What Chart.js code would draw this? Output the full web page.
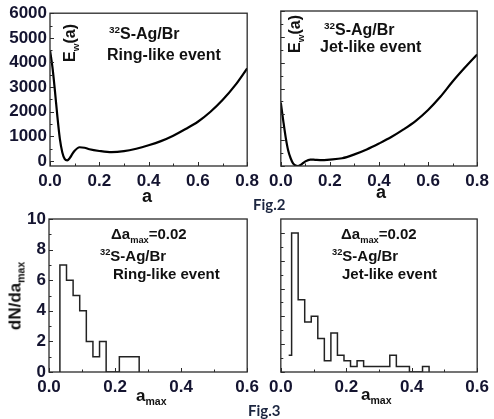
<!DOCTYPE html>
<html>
<head>
<meta charset="utf-8">
<script src="https://cdn.jsdelivr.net/npm/chart.js@4.4.0/dist/chart.umd.min.js"></script>
<style>
  body { margin: 0; background: #fff; }
  #wrap { position: relative; width: 494px; height: 419px; overflow: hidden; background: #fff;
          font-family: "Liberation Sans", Arial, sans-serif; font-weight: bold; color: #111; }
  canvas { position: absolute; }
  .t { position: absolute; white-space: nowrap; line-height: 1; }
  .t sub, .t sup { font-size: 62%; line-height: 0; }
  .rot { transform: translate(-50%, -50%) rotate(-90deg); }
  .fig { font-family: Lato, "Open Sans", sans-serif; color: #1c2640; font-size: 15px; }
</style>
</head>
<body>
<div id="wrap">
  <canvas id="ewRingChart" width="264" height="195" style="left:0;top:0"></canvas>
  <canvas id="ewJetChart" width="230" height="195" style="left:264px;top:0"></canvas>
  <canvas id="histRingChart" width="264" height="195" style="left:0;top:205px"></canvas>
  <canvas id="histJetChart" width="230" height="195" style="left:264px;top:205px"></canvas>

  <div class="t rot" style="left:70px;top:43px;font-size:16px">E<sub>w</sub>(a)</div>
  <div class="t" style="left:109px;top:26px;font-size:16px"><sup>32</sup>S-Ag/Br</div>
  <div class="t" style="left:107px;top:47px;font-size:16px">Ring-like event</div>

  <div class="t rot" style="left:295px;top:34px;font-size:16px">E<sub>w</sub>(a)</div>
  <div class="t" style="left:324px;top:22px;font-size:16px"><sup>32</sup>S-Ag/Br</div>
  <div class="t" style="left:320px;top:39px;font-size:16px">Jet-like event</div>

  <div class="t" style="left:142px;top:187px;font-size:18px">a</div>
  <div class="t" style="left:376px;top:183px;font-size:18px">a</div>
  <div class="t fig" style="left:253px;top:197px">Fig.2</div>

  <div class="t" style="left:111px;top:226px;font-size:15px">&Delta;a<sub>max</sub>=0.02</div>
  <div class="t" style="left:100px;top:248px;font-size:15px"><sup>32</sup>S-Ag/Br</div>
  <div class="t" style="left:113px;top:266px;font-size:15px">Ring-like event</div>

  <div class="t" style="left:341px;top:226px;font-size:15px">&Delta;a<sub>max</sub>=0.02</div>
  <div class="t" style="left:332px;top:248px;font-size:15px"><sup>32</sup>S-Ag/Br</div>
  <div class="t" style="left:342px;top:266px;font-size:15px">Jet-like event</div>

  <div class="t rot" style="left:15px;top:296px;font-size:17px">dN/da<sub>max</sub></div>
  <div class="t" style="left:136px;top:387px;font-size:17px">a<sub>max</sub></div>
  <div class="t" style="left:361px;top:386px;font-size:17px">a<sub>max</sub></div>
  <div class="t fig" style="left:248px;top:403px">Fig.3</div>
</div>

<script>
const aGrid  = [0, 0.01, 0.02, 0.03, 0.04, 0.05, 0.06, 0.07, 0.08, 0.09, 0.10, 0.12, 0.14, 0.16,
                0.20, 0.25, 0.30, 0.35, 0.40, 0.45, 0.50, 0.55, 0.60, 0.65, 0.70, 0.75, 0.80];
const ewRing = [4500, 3800, 2850, 1800, 900, 350, 80, 30, 120, 280, 420, 560, 540, 480,
                410, 360, 400, 500, 640, 810, 1030, 1300, 1595, 1990, 2475, 3060, 3760];
const ewJet  = [2450, 1750, 1100, 600, 300, 100, 20, 0, 40, 110, 180, 250, 240, 230,
                250, 300, 450, 640, 870, 1120, 1415, 1750, 2170, 2680, 3270, 3810, 4320];
const aTicks  = [0, 0.2, 0.4, 0.6, 0.8];
const ewTicks = [0, 1000, 2000, 3000, 4000, 5000, 6000];

// a_max histograms, Fig.3 (bin width 0.02)
const binWidth = 0.02;
const ringBinStart = 0.033;
const ringCounts = [7, 6, 5, 4, 2, 1, 2, 0, 0, 1, 1, 1];
const jetBinStart = 0.033;
const jetLeadIn = [0.024, 3];
const jetCounts = [25, 13, 9, 10, 6, 2, 7, 3, 2, 1, 2, 1, 1, 1, 1, 3, 1, 1, 0, 0, 1];
const amaxTicks = [0, 0.2, 0.4, 0.6];
const ringTicks = [0, 2, 4, 6, 8, 10];
const jetTicks  = [0, 5, 10, 15, 20, 25];

const tickFont = { family: '"Liberation Sans", Arial, sans-serif', size: 17, weight: 'bold' };
const tickColor = '#141430';

// box frame plus Origin-style inward ticks
const frameTicks = {
  id: 'frameTicks',
  afterDraw(chart) {
    const { ctx, chartArea: ca } = chart;
    const xs = chart.scales.x, ys = chart.scales.y;
    const mids = v => v.slice(1).map((b, i) => (b + v[i]) / 2);
    const xv = xs.ticks.map(t => t.value), yv = ys.ticks.map(t => t.value);
    ctx.save();
    ctx.strokeStyle = '#2a2a2a';
    ctx.lineWidth = 1.3;
    ctx.strokeRect(ca.left, ca.top, ca.right - ca.left, ca.bottom - ca.top);
    ctx.lineWidth = 1;
    ctx.beginPath();
    const xt = (v, len) => { const p = Math.round(xs.getPixelForValue(v)) + 0.5; ctx.moveTo(p, ca.bottom); ctx.lineTo(p, ca.bottom - len); };
    const yt = (v, len) => { const p = Math.round(ys.getPixelForValue(v)) + 0.5; ctx.moveTo(ca.left, p); ctx.lineTo(ca.left + len, p); };
    xv.forEach(v => xt(v, 4));
    mids(xv).forEach(v => xt(v, 2.5));
    yv.forEach(v => yt(v, 4));
    mids(yv).forEach(v => yt(v, 2.5));
    ctx.stroke();
    ctx.restore();
  }
};

function axes(o) {
  return {
    x: {
      type: 'linear', min: 0, max: o.xMax,
      afterBuildTicks: s => { s.ticks = o.xTicks.map(v => ({ value: v })); },
      afterFit: s => { s.height = o.xH; },
      grid: { display: false, drawTicks: false },
      border: { display: false },
      ticks: { font: tickFont, color: tickColor, padding: 5, maxRotation: 0,
               callback: v => v.toFixed(1) }
    },
    y: {
      min: o.yMin, max: o.yMax,
      afterBuildTicks: s => { s.ticks = o.yTicks.map(v => ({ value: v })); },
      afterFit: s => { s.width = o.yW; },
      grid: { display: false, drawTicks: false },
      border: { display: false },
      ticks: { display: o.yLabels, font: tickFont, color: tickColor, padding: 3,
               callback: v => String(v) }
    }
  };
}

function makeChart(id, data, o) {
  return new Chart(document.getElementById(id), {
    type: 'line',
    data: { datasets: [data] },
    options: {
      responsive: false,
      animation: false,
      events: [],
      layout: { padding: { top: o.padTop, right: o.padRight, left: 0, bottom: 0 } },
      plugins: { legend: { display: false }, tooltip: { enabled: false } },
      scales: axes(o)
    },
    plugins: [frameTicks]
  });
}

function curve(vals) {
  return {
    data: aGrid.map((a, i) => ({ x: a, y: vals[i] })),
    borderColor: '#000', borderWidth: 2.2, pointRadius: 0,
    cubicInterpolationMode: 'monotone', fill: false
  };
}

function steps(start, counts, lead) {
  const pts = lead ? [{ x: lead[0], y: lead[1] }] : [{ x: start, y: 0 }];
  counts.forEach((c, i) => pts.push({ x: start + i * binWidth, y: c }));
  pts.push({ x: start + counts.length * binWidth, y: 0 });
  return {
    data: pts, stepped: 'before',
    borderColor: '#222', borderWidth: 1.5, pointRadius: 0, fill: false
  };
}

makeChart('ewRingChart', curve(ewRing), {
  xMax: 0.8, xTicks: aTicks, yMin: -200, yMax: 6000, yTicks: ewTicks,
  yW: 50, xH: 29, padTop: 11, padRight: 15, yLabels: true
});
makeChart('ewJetChart', curve(ewJet), {
  xMax: 0.8, xTicks: aTicks, yMin: 0, yMax: 6000, yTicks: ewTicks,
  yW: 14, xH: 29, padTop: 11, padRight: 13, yLabels: false
});
makeChart('histRingChart', steps(ringBinStart, ringCounts), {
  xMax: 0.6, xTicks: amaxTicks, yMin: 0, yMax: 10, yTicks: ringTicks,
  yW: 49, xH: 28, padTop: 14, padRight: 15, yLabels: true
});
makeChart('histJetChart', steps(jetBinStart, jetCounts, jetLeadIn), {
  xMax: 0.6, xTicks: amaxTicks, yMin: 0, yMax: 27.5, yTicks: jetTicks,
  yW: 12, xH: 28, padTop: 14, padRight: 13, yLabels: false
});
</script>
</body>
</html>
